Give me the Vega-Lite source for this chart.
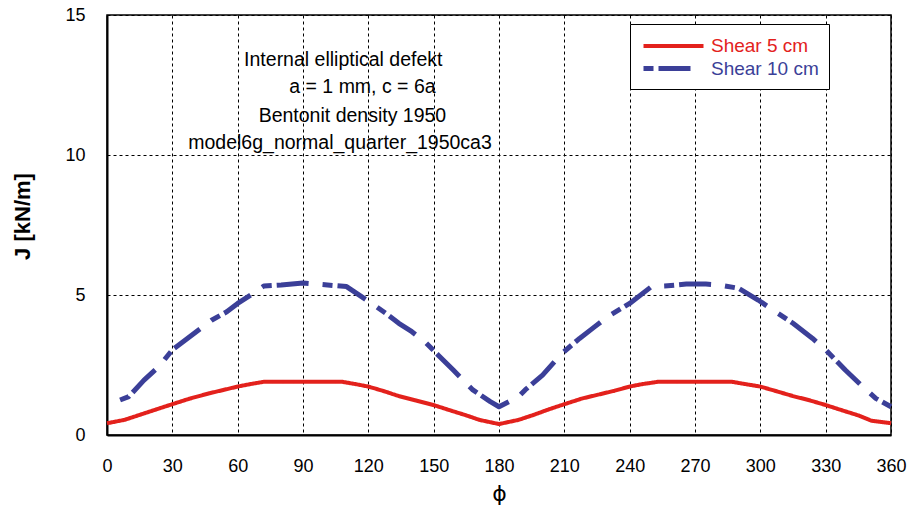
{
  "$schema": "https://vega.github.io/schema/vega-lite/v6.json",
  "width": 784,
  "height": 420,
  "autosize": {"type": "none"},
  "padding": {"left": 107, "top": 15, "right": 16, "bottom": 78},
  "background": "white",
  "config": {
    "font": "Liberation Sans",
    "view": {"stroke": "#000", "strokeWidth": 1.5},
    "axis": {
      "grid": true,
      "gridColor": "#000",
      "gridDash": [3, 3],
      "gridWidth": 1,
      "gridOpacity": 1,
      "domainColor": "#000",
      "domainWidth": 2,
      "ticks": false,
      "labelFlush": false,
      "labelOverlap": false,
      "labelFont": "Liberation Sans",
      "labelFontSize": 18,
      "labelColor": "#000",
      "titleColor": "#000"
    }
  },
  "datasets": {
    "curves": [
      {"s": "Shear 5 cm", "phi": 0, "J": 0.42},
      {"s": "Shear 5 cm", "phi": 8, "J": 0.54},
      {"s": "Shear 5 cm", "phi": 17, "J": 0.77},
      {"s": "Shear 5 cm", "phi": 24, "J": 0.95},
      {"s": "Shear 5 cm", "phi": 30, "J": 1.10},
      {"s": "Shear 5 cm", "phi": 38, "J": 1.30},
      {"s": "Shear 5 cm", "phi": 47, "J": 1.49},
      {"s": "Shear 5 cm", "phi": 53, "J": 1.60},
      {"s": "Shear 5 cm", "phi": 60, "J": 1.73},
      {"s": "Shear 5 cm", "phi": 66, "J": 1.82},
      {"s": "Shear 5 cm", "phi": 72, "J": 1.90},
      {"s": "Shear 5 cm", "phi": 108, "J": 1.90},
      {"s": "Shear 5 cm", "phi": 114, "J": 1.82},
      {"s": "Shear 5 cm", "phi": 120, "J": 1.73},
      {"s": "Shear 5 cm", "phi": 127, "J": 1.57},
      {"s": "Shear 5 cm", "phi": 134, "J": 1.39},
      {"s": "Shear 5 cm", "phi": 142, "J": 1.23},
      {"s": "Shear 5 cm", "phi": 150, "J": 1.07},
      {"s": "Shear 5 cm", "phi": 158, "J": 0.87},
      {"s": "Shear 5 cm", "phi": 165, "J": 0.70},
      {"s": "Shear 5 cm", "phi": 171, "J": 0.54},
      {"s": "Shear 5 cm", "phi": 180, "J": 0.39},
      {"s": "Shear 5 cm", "phi": 189, "J": 0.54},
      {"s": "Shear 5 cm", "phi": 196, "J": 0.72},
      {"s": "Shear 5 cm", "phi": 203, "J": 0.92},
      {"s": "Shear 5 cm", "phi": 210, "J": 1.10},
      {"s": "Shear 5 cm", "phi": 218, "J": 1.30},
      {"s": "Shear 5 cm", "phi": 226, "J": 1.45},
      {"s": "Shear 5 cm", "phi": 233, "J": 1.58},
      {"s": "Shear 5 cm", "phi": 240, "J": 1.73},
      {"s": "Shear 5 cm", "phi": 246, "J": 1.82},
      {"s": "Shear 5 cm", "phi": 253, "J": 1.90},
      {"s": "Shear 5 cm", "phi": 287, "J": 1.90},
      {"s": "Shear 5 cm", "phi": 293, "J": 1.82},
      {"s": "Shear 5 cm", "phi": 300, "J": 1.73},
      {"s": "Shear 5 cm", "phi": 308, "J": 1.55},
      {"s": "Shear 5 cm", "phi": 315, "J": 1.39},
      {"s": "Shear 5 cm", "phi": 323, "J": 1.23},
      {"s": "Shear 5 cm", "phi": 330, "J": 1.07},
      {"s": "Shear 5 cm", "phi": 338, "J": 0.87},
      {"s": "Shear 5 cm", "phi": 345, "J": 0.70},
      {"s": "Shear 5 cm", "phi": 351, "J": 0.51},
      {"s": "Shear 5 cm", "phi": 360, "J": 0.42},
      {"s": "Shear 10 cm", "phi": 6, "J": 1.25},
      {"s": "Shear 10 cm", "phi": 10, "J": 1.37},
      {"s": "Shear 10 cm", "phi": 17, "J": 1.96},
      {"s": "Shear 10 cm", "phi": 24, "J": 2.46},
      {"s": "Shear 10 cm", "phi": 30, "J": 3.04},
      {"s": "Shear 10 cm", "phi": 36, "J": 3.39},
      {"s": "Shear 10 cm", "phi": 41, "J": 3.69},
      {"s": "Shear 10 cm", "phi": 48, "J": 4.10},
      {"s": "Shear 10 cm", "phi": 55, "J": 4.40},
      {"s": "Shear 10 cm", "phi": 60, "J": 4.70},
      {"s": "Shear 10 cm", "phi": 66, "J": 5.00},
      {"s": "Shear 10 cm", "phi": 72, "J": 5.32},
      {"s": "Shear 10 cm", "phi": 80, "J": 5.36},
      {"s": "Shear 10 cm", "phi": 90, "J": 5.43},
      {"s": "Shear 10 cm", "phi": 98, "J": 5.38},
      {"s": "Shear 10 cm", "phi": 110, "J": 5.30},
      {"s": "Shear 10 cm", "phi": 120, "J": 4.78},
      {"s": "Shear 10 cm", "phi": 128, "J": 4.35},
      {"s": "Shear 10 cm", "phi": 134, "J": 3.99},
      {"s": "Shear 10 cm", "phi": 140, "J": 3.69},
      {"s": "Shear 10 cm", "phi": 146, "J": 3.33},
      {"s": "Shear 10 cm", "phi": 152, "J": 2.86},
      {"s": "Shear 10 cm", "phi": 159, "J": 2.32},
      {"s": "Shear 10 cm", "phi": 168, "J": 1.61},
      {"s": "Shear 10 cm", "phi": 176, "J": 1.19},
      {"s": "Shear 10 cm", "phi": 180, "J": 1.01},
      {"s": "Shear 10 cm", "phi": 189, "J": 1.37},
      {"s": "Shear 10 cm", "phi": 192, "J": 1.61},
      {"s": "Shear 10 cm", "phi": 200, "J": 2.14},
      {"s": "Shear 10 cm", "phi": 209, "J": 2.92},
      {"s": "Shear 10 cm", "phi": 217, "J": 3.45},
      {"s": "Shear 10 cm", "phi": 224, "J": 3.87},
      {"s": "Shear 10 cm", "phi": 230, "J": 4.23},
      {"s": "Shear 10 cm", "phi": 240, "J": 4.70},
      {"s": "Shear 10 cm", "phi": 250, "J": 5.30},
      {"s": "Shear 10 cm", "phi": 256, "J": 5.32},
      {"s": "Shear 10 cm", "phi": 266, "J": 5.39},
      {"s": "Shear 10 cm", "phi": 275, "J": 5.39},
      {"s": "Shear 10 cm", "phi": 281, "J": 5.36},
      {"s": "Shear 10 cm", "phi": 290, "J": 5.24},
      {"s": "Shear 10 cm", "phi": 299, "J": 4.82},
      {"s": "Shear 10 cm", "phi": 308, "J": 4.35},
      {"s": "Shear 10 cm", "phi": 315, "J": 3.99},
      {"s": "Shear 10 cm", "phi": 324, "J": 3.45},
      {"s": "Shear 10 cm", "phi": 330, "J": 3.04},
      {"s": "Shear 10 cm", "phi": 339, "J": 2.32},
      {"s": "Shear 10 cm", "phi": 347, "J": 1.73},
      {"s": "Shear 10 cm", "phi": 353, "J": 1.31},
      {"s": "Shear 10 cm", "phi": 360, "J": 1.01}
    ],
    "notes": [
      {"label": "Internal elliptical defekt", "phi": 108.5, "J": 13.18},
      {"label": "a = 1 mm, c = 6a", "phi": 117.3, "J": 12.2},
      {"label": "Bentonit density 1950", "phi": 112.7, "J": 11.19},
      {"label": "model6g_normal_quarter_1950ca3", "phi": 107, "J": 10.2}
    ]
  },
  "layer": [
    {
      "data": {"name": "curves"},
      "mark": {"type": "line", "strokeCap": "butt", "strokeJoin": "round"},
      "encoding": {
        "x": {
          "field": "phi", "type": "quantitative",
          "scale": {"domain": [0, 360], "nice": false},
          "axis": {
            "values": [0, 30, 60, 90, 120, 150, 180, 210, 240, 270, 300, 330, 360],
            "labelPadding": 22,
            "title": "ϕ",
            "titleFont": "DejaVu Sans",
            "titleFontSize": 22,
            "titleFontWeight": "normal",
            "titleBaseline": "middle",
            "titleY": 58
          }
        },
        "y": {
          "field": "J", "type": "quantitative",
          "scale": {"domain": [0, 15], "nice": false},
          "axis": {
            "values": [0, 5, 10, 15],
            "labelPadding": 22,
            "title": "J [kN/m]",
            "titleFont": "Liberation Sans",
            "titleFontSize": 22,
            "titleFontWeight": "bold",
            "titleAngle": 270,
            "titleAlign": "center",
            "titleBaseline": "middle",
            "titleX": -85,
            "titleY": 201
          }
        },
        "color": {
          "field": "s", "type": "nominal",
          "scale": {"domain": ["Shear 5 cm", "Shear 10 cm"], "range": ["#e3211c", "#3b3f98"]},
          "legend": {
            "title": null,
            "orient": "none",
            "legendX": 523,
            "legendY": 9,
            "fillColor": "white",
            "strokeColor": "#000",
            "padding": 10,
            "symbolType": "M-3,0H3",
            "symbolSize": 400,
            "symbolOffset": 21,
            "symbolStrokeWidth": 4,
            "labelFont": "Liberation Sans",
            "labelFontSize": 19,
            "labelOffset": 25,
            "rowPadding": 0,
            "labelColor": {"expr": "datum.value === 'Shear 5 cm' ? '#e3211c' : '#3b3f98'"}
          }
        },
        "strokeDash": {
          "field": "s", "type": "nominal",
          "scale": {"domain": ["Shear 5 cm", "Shear 10 cm"], "range": [[1, 0], [10, 5, 32, 14]]}
        },
        "strokeWidth": {
          "field": "s", "type": "nominal",
          "scale": {"domain": ["Shear 5 cm", "Shear 10 cm"], "range": [4, 5]},
          "legend": null
        }
      }
    },
    {
      "data": {"name": "notes"},
      "mark": {"type": "text", "font": "Liberation Sans", "fontSize": 19.5, "align": "center", "baseline": "alphabetic", "color": "#000"},
      "encoding": {
        "x": {"field": "phi", "type": "quantitative"},
        "y": {"field": "J", "type": "quantitative"},
        "text": {"field": "label"}
      }
    }
  ]
}
